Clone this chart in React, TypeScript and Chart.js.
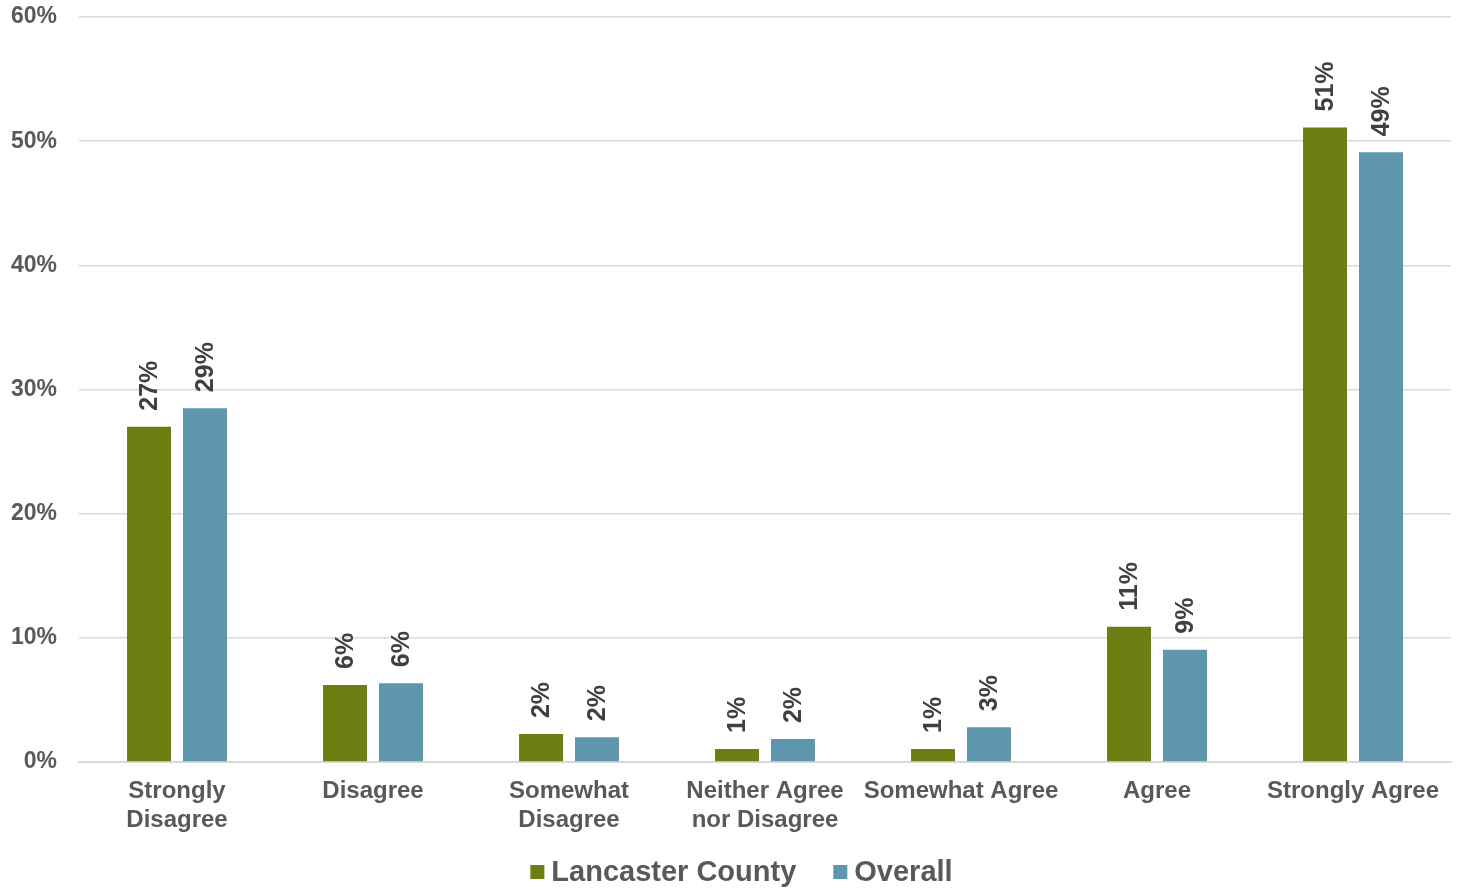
import React, { useEffect, useRef } from "react";
import { Chart, registerables } from "chart.js";

Chart.register(...registerables);

const categories: (string | string[])[] = [
  ["Strongly", "Disagree"],
  "Disagree",
  ["Somewhat", "Disagree"],
  ["Neither Agree", "nor Disagree"],
  "Somewhat Agree",
  "Agree",
  "Strongly Agree",
];
const seriesNames = ["Lancaster County", "Overall"];
const lancaster = [27.0, 6.2, 2.25, 1.05, 1.05, 10.9, 51.1];
const overall = [28.5, 6.35, 2.0, 1.85, 2.8, 9.05, 49.1];
const lancasterLabels = ["27%", "6%", "2%", "1%", "1%", "11%", "51%"];
const overallLabels = ["29%", "6%", "2%", "2%", "3%", "9%", "49%"];
const yTicks = [0, 10, 20, 30, 40, 50, 60];

const FONT = "'Liberation Sans', Arial, sans-serif";
const GREEN = "#6B7F12";
const BLUE = "#5E96AD";
const COLORS = [GREEN, BLUE];

const labelPlugin = {
  id: "rotLabels",
  afterDatasetsDraw(chart: any) {
    const ctx = chart.ctx;
    const sets = [lancasterLabels, overallLabels];
    ctx.save();
    ctx.font = `bold 25px ${FONT}`;
    ctx.fillStyle = "#404040";
    ctx.textAlign = "left";
    ctx.textBaseline = "middle";
    chart.data.datasets.forEach((_: any, di: number) => {
      const meta = chart.getDatasetMeta(di);
      meta.data.forEach((bar: any, i: number) => {
        ctx.save();
        ctx.translate(bar.x + 1, bar.y - 16);
        ctx.rotate(-Math.PI / 2);
        ctx.fillText(sets[di][i], 0, 0);
        ctx.restore();
      });
    });
    ctx.restore();
  },
};

const legendPlugin = {
  id: "customLegend",
  afterDraw(chart: any) {
    const ctx = chart.ctx;
    ctx.save();
    ctx.font = `bold 29px ${FONT}`;
    ctx.textBaseline = "middle";
    ctx.textAlign = "left";
    const box = 14;
    const boxGap = 7;
    const itemGap = 37;
    const widths = seriesNames.map((n) => ctx.measureText(n).width);
    const total =
      widths.reduce((a, w) => a + box + boxGap + w, 0) + itemGap * (seriesNames.length - 1);
    let x = chart.width / 2 + 12 - total / 2;
    const cy = chart.height - 16;
    seriesNames.forEach((n, i) => {
      ctx.fillStyle = COLORS[i];
      ctx.fillRect(x, cy - box / 2, box, box);
      x += box + boxGap;
      ctx.fillStyle = "#595959";
      ctx.fillText(n, x, cy + 1);
      x += widths[i] + itemGap;
    });
    ctx.restore();
  },
};

export default function App() {
  const ref = useRef<HTMLCanvasElement>(null);
  useEffect(() => {
    if (!ref.current) return;
    const chart = new Chart(ref.current, {
      type: "bar",
      data: {
        labels: categories,
        datasets: [
          { label: seriesNames[0], data: lancaster, backgroundColor: GREEN },
          { label: seriesNames[1], data: overall, backgroundColor: BLUE },
        ],
      },
      options: {
        animation: false,
        responsive: true,
        maintainAspectRatio: false,
        layout: { padding: { top: 17, right: 8, left: 0, bottom: 32 } },
        datasets: {
          bar: { categoryPercentage: 0.571, barPercentage: 0.786 },
        },
        plugins: {
          tooltip: { enabled: false },
          legend: { display: false },
        },
        scales: {
          x: {
            grid: { display: false, drawTicks: false },
            border: { color: "#d9d9d9", width: 2 },
            ticks: {
              font: { family: FONT, size: 24, weight: "bold" },
              color: "#595959",
              padding: 15,
              maxRotation: 0,
              autoSkip: false,
            },
            afterFit(scale: any) {
              scale.height = 94;
              scale.paddingLeft = 0;
              scale.paddingRight = 0;
            },
          },
          y: {
            min: 0,
            max: 60,
            grid: { color: "#d9d9d9", lineWidth: 1.5, drawTicks: false },
            border: { display: false },
            afterBuildTicks(scale: any) {
              scale.ticks = yTicks.map((v) => ({ value: v }));
            },
            ticks: {
              font: { family: FONT, size: 23, weight: "bold" },
              color: "#595959",
              padding: 22,
              callback: (v: any) => v + "%",
            },
            afterFit(scale: any) {
              scale.width = 79;
              scale.paddingTop = 0;
              scale.paddingBottom = 0;
            },
          },
        },
      },
      plugins: [labelPlugin, legendPlugin],
    });
    return () => chart.destroy();
  }, []);
  return (
    <div style={{ position: "fixed", left: 0, top: 0, width: 1459, height: 888, background: "#fff" }}>
      <canvas ref={ref} />
    </div>
  );
}
